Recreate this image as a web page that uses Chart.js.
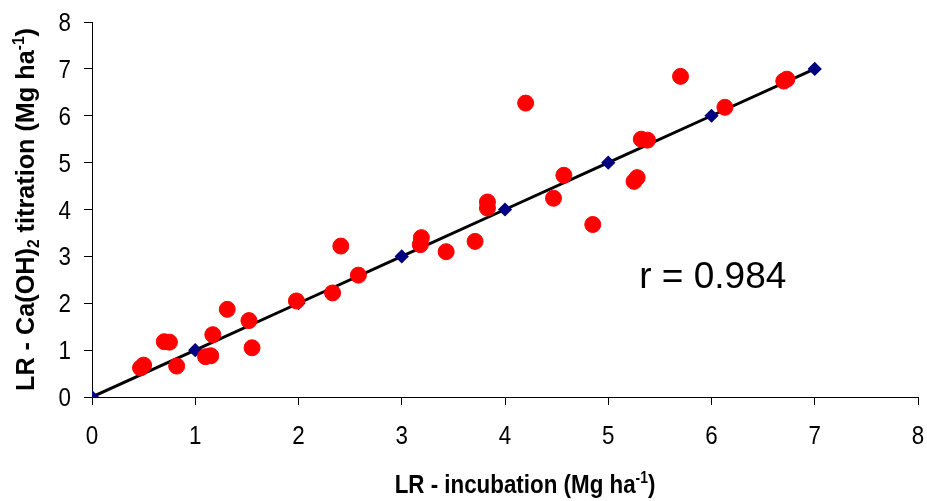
<!DOCTYPE html>
<html>
<head>
<meta charset="utf-8">
<script src="https://cdn.jsdelivr.net/npm/chart.js@4/dist/chart.umd.min.js"></script>
<style>
    html, body { margin: 0; padding: 0; background: #fff; }
    #wrap { width: 927px; height: 501px; }
</style>
</head>
<body>
<div id="wrap"><canvas id="lrChart"></canvas></div>
<script>
// LR by incubation (x) vs LR by Ca(OH)2 titration (y), Mg/ha
const incubation = [0.47, 0.50, 0.70, 0.75, 0.82, 1.10, 1.15, 1.17, 1.31, 1.52, 1.55, 1.98,
    2.33, 2.41, 2.58, 3.18, 3.19, 3.43, 3.71, 3.83, 3.83, 4.20, 4.47, 4.57, 4.85,
    5.25, 5.28, 5.32, 5.38, 5.70, 6.13, 6.70, 6.73];
const titration = [0.62, 0.68, 1.18, 1.17, 0.66, 0.86, 0.88, 1.33, 1.87, 1.63, 1.05, 2.05,
    2.22, 3.22, 2.60, 3.25, 3.40, 3.10, 3.32, 4.03, 4.16, 6.27, 4.24, 4.73, 3.68,
    4.60, 4.68, 5.50, 5.48, 6.84, 6.18, 6.74, 6.78];

// 1:1 line
const lineX = [0, 1, 2, 3, 4, 5, 6, 7];
const lineY = [0, 1, 2, 3, 4, 5, 6, 7];

const axisTicks = [0, 1, 2, 3, 4, 5, 6, 7, 8];
const rLabel = "r = 0.984";
const rLabelPos = [5.3, 2.325]; // in data units

const fontFamily = "'Liberation Sans', Arial, sans-serif";
const squeeze = 0.86;  // the original uses a narrow face
const squeezeY = 0.97; // y title is drawn wider in the original

// draws text pieces with sub/superscripts, starting at (x, y) baseline
function drawRich(ctx, parts, x, y, size) {
    let cx = x;
    parts.forEach(p => {
        const s = p.mode ? size * 0.62 : size;
        ctx.font = `bold ${s}px ${fontFamily}`;
        let dy = 0;
        if (p.mode === 'sup') dy = -size * 0.38;
        if (p.mode === 'sub') dy = size * 0.18;
        ctx.fillText(p.t, cx, y + dy);
        cx += ctx.measureText(p.t).width;
    });
    return cx - x;
}

function richWidth(ctx, parts, size) {
    let w = 0;
    parts.forEach(p => {
        const s = p.mode ? size * 0.62 : size;
        ctx.font = `bold ${s}px ${fontFamily}`;
        w += ctx.measureText(p.t).width;
    });
    return w;
}

const xTitle = [{ t: 'LR - incubation (Mg ha' }, { t: '-1', mode: 'sup' }, { t: ')' }];
const yTitle = [{ t: 'LR - Ca(OH)' }, { t: '2', mode: 'sub' }, { t: ' titration (Mg ha' }, { t: '-1', mode: 'sup' }, { t: ')' }];

const textPlugin = {
    id: 'texts',
    afterDraw(chart) {
        const ctx = chart.ctx;
        const xs = chart.scales.x;
        const ys = chart.scales.y;
        ctx.save();
        ctx.fillStyle = '#000';
        ctx.textBaseline = 'alphabetic';

        // tick labels
        ctx.font = `26px ${fontFamily}`;
        ctx.textAlign = 'center';
        axisTicks.forEach(v => {
            ctx.save();
            ctx.translate(xs.getPixelForValue(v), 444);
            ctx.scale(squeeze, 1);
            ctx.fillText(String(v), 0, 0);
            ctx.restore();
        });
        ctx.textAlign = 'right';
        axisTicks.forEach(v => {
            ctx.save();
            ctx.translate(71, ys.getPixelForValue(v) + 9);
            ctx.scale(squeeze, 1);
            ctx.fillText(String(v), 0, 0);
            ctx.restore();
        });

        // axis titles
        ctx.textAlign = 'left';
        const size = 26;
        const xw = richWidth(ctx, xTitle, size);
        ctx.save();
        ctx.translate(525, 493);
        ctx.scale(squeeze, 1);
        drawRich(ctx, xTitle, -xw / 2, 0, size);
        ctx.restore();

        const yw = richWidth(ctx, yTitle, size);
        ctx.save();
        ctx.translate(34, (ys.top + ys.bottom) / 2);
        ctx.rotate(-Math.PI / 2);
        ctx.scale(squeezeY, 1);
        drawRich(ctx, yTitle, -yw / 2, 0, size);
        ctx.restore();

        // r label
        ctx.font = `37px ${fontFamily}`;
        ctx.fillText(rLabel, xs.getPixelForValue(rLabelPos[0]), ys.getPixelForValue(rLabelPos[1]));
        ctx.restore();
    }
};

const ctx = document.getElementById('lrChart').getContext('2d');
new Chart(ctx, {
    type: 'scatter',
    data: {
        datasets: [
            {
                label: 'samples',
                data: incubation.map((v, i) => ({ x: v, y: titration[i] })),
                pointStyle: 'circle',
                pointRadius: 8,
                backgroundColor: '#ff0000',
                borderColor: '#ff0000',
                borderWidth: 1,
                order: 1
            },
            {
                label: '1:1',
                data: lineX.map((v, i) => ({ x: v, y: lineY[i] })),
                showLine: true,
                borderColor: '#000',
                borderWidth: 3,
                pointStyle: 'rectRot',
                pointRadius: 5,
                pointBackgroundColor: '#000080',
                pointBorderColor: '#000080',
                order: 2
            }
        ]
    },
    options: {
        responsive: true,
        maintainAspectRatio: false,
        animation: false,
        events: [],
        layout: { padding: { top: 22, right: 7, left: 0, bottom: 0 } },
        plugins: {
            legend: { display: false },
            tooltip: { enabled: false }
        },
        scales: {
            x: {
                type: 'linear',
                min: 0,
                max: 8,
                afterBuildTicks: axis => { axis.ticks = axisTicks.map(v => ({ value: v })); },
                afterFit: axis => { axis.height = 104; axis.paddingLeft = 0; axis.paddingRight = 0; },
                grid: { drawOnChartArea: false, drawTicks: true, tickLength: 8, color: '#000' },
                border: { color: '#000', width: 1 },
                ticks: { display: false }
            },
            y: {
                type: 'linear',
                min: 0,
                max: 8,
                afterBuildTicks: axis => { axis.ticks = axisTicks.map(v => ({ value: v })); },
                afterFit: axis => { axis.width = 92; axis.paddingTop = 0; axis.paddingBottom = 0; },
                grid: { drawOnChartArea: false, drawTicks: true, tickLength: 8, color: '#000' },
                border: { color: '#000', width: 1 },
                ticks: { display: false }
            }
        }
    },
    plugins: [textPlugin]
});
</script>
</body>
</html>
